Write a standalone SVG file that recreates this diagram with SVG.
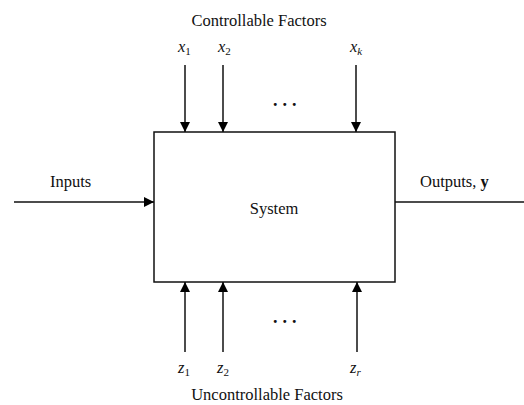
<svg xmlns="http://www.w3.org/2000/svg" width="524" height="405" viewBox="0 0 524 405">
<defs>
<marker id="ah" viewBox="0 0 10 10" refX="10" refY="5" markerWidth="10" markerHeight="10" markerUnits="userSpaceOnUse" orient="auto">
<path d="M0,0 L10,5 L0,10 z" fill="#000"/>
</marker>
</defs>
<style>
text{font-family:"Liberation Serif","Times New Roman",serif;font-size:16.5px;fill:#111}
.v{font-style:italic;font-size:16.5px}
.s{font-size:11px;font-style:normal}
.si{font-size:11px;font-style:italic}
.d{font-size:18px;font-weight:bold;letter-spacing:5px}
.c{stroke:#111;stroke-width:1.5;fill:none}
.a{marker-end:url(#ah)}
</style>
<rect width="524" height="405" fill="#fff"/>
<g id="system">
<rect x="154" y="132" width="241" height="150" fill="#fff" stroke="#111" stroke-width="1.5"/>
<text x="274" y="214" text-anchor="middle">System</text>
</g>
<g id="labels">
<text x="259" y="26" text-anchor="middle">Controllable Factors</text>
<text x="267" y="400" text-anchor="middle">Uncontrollable Factors</text>
<text x="50" y="187">Inputs</text>
<text x="420" y="187">Outputs, <tspan font-weight="bold">y</tspan></text>
<text x="178" y="52" class="v">x<tspan class="s" dy="3">1</tspan></text>
<text x="218" y="52" class="v">x<tspan class="s" dy="3">2</tspan></text>
<text x="350" y="52" class="v">x<tspan class="si" dy="3">k</tspan></text>
<text x="178" y="373" class="v">z<tspan class="s" dy="3">1</tspan></text>
<text x="217" y="373" class="v">z<tspan class="s" dy="3">2</tspan></text>
<text x="350" y="373" class="v">z<tspan class="si" dy="3">r</tspan></text>
<text x="273" y="106" class="d">...</text>
<text x="273" y="323" class="d">...</text>
</g>
<g id="connectors">
<line class="c a" x1="14" y1="202" x2="154" y2="202"/>
<line class="c" x1="395" y1="202" x2="524" y2="202"/>
<line class="c a" x1="185" y1="65" x2="185" y2="132"/>
<line class="c a" x1="223" y1="65" x2="223" y2="132"/>
<line class="c a" x1="356" y1="65" x2="356" y2="132"/>
<line class="c a" x1="185" y1="352" x2="185" y2="282"/>
<line class="c a" x1="223" y1="352" x2="223" y2="282"/>
<line class="c a" x1="357" y1="352" x2="357" y2="282"/>
</g>
</svg>
